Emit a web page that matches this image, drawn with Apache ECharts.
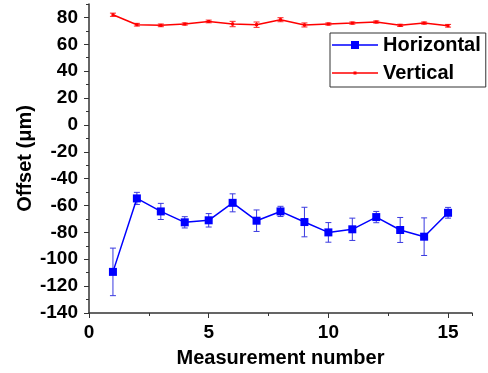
<!DOCTYPE html>
<html>
<head>
<meta charset="utf-8">
<script src="https://cdn.jsdelivr.net/npm/echarts@6/dist/echarts.min.js"></script>
<style>
html, body { margin: 0; padding: 0; background: #fff; }
#chart { width: 488px; height: 373px; }
</style>
</head>
<body>
<div id="chart"></div>
<script>
// data
var measurement = [1, 2, 3, 4, 5, 6, 7, 8, 9, 10, 11, 12, 13, 14, 15];
var horizontal = [-109.4, -54.7, -64.4, -72.5, -71.0, -58.0, -71.3, -64.4, -72.3, -80.0, -77.7, -68.6, -78.2, -83.2, -65.4];
var horizontalErr = [17.7, 4.5, 6.0, 4.2, 5.0, 6.7, 8.0, 3.8, 11.0, 7.3, 8.3, 4.2, 9.3, 14.0, 4.0];
var vertical = [82.0, 74.6, 74.1, 75.1, 77.0, 75.1, 74.6, 78.3, 74.4, 75.1, 75.8, 76.6, 74.1, 75.8, 73.8];
var verticalErr = [1.2, 1.0, 1.0, 0.8, 1.0, 2.0, 2.0, 1.5, 1.5, 0.8, 0.8, 0.8, 0.8, 0.8, 1.0];
var xTicks = [0, 5, 10, 15];
var yTicks = [-140, -120, -100, -80, -60, -40, -20, 0, 20, 40, 60, 80];

var font = 'Liberation Sans, Arial, sans-serif';
var axisColor = '#333';

function pairs(vals) {
  return measurement.map(function (m, i) { return [m, vals[i]]; });
}

function errorBars(name, vals, errs, color) {
  return {
    name: name + ' err',
    type: 'custom',
    z: 1,
    data: measurement.map(function (m, i) { return [m, vals[i] - errs[i], vals[i] + errs[i]]; }),
    renderItem: function (params, api) {
      var x = api.value(0);
      var lo = api.coord([x, api.value(1)]);
      var hi = api.coord([x, api.value(2)]);
      var w = 3;
      var st = { stroke: color, lineWidth: 1 };
      return {
        type: 'group',
        children: [
          { type: 'line', shape: { x1: lo[0], y1: lo[1], x2: hi[0], y2: hi[1] }, style: st },
          { type: 'line', shape: { x1: lo[0] - w, y1: lo[1], x2: lo[0] + w, y2: lo[1] }, style: st },
          { type: 'line', shape: { x1: hi[0] - w, y1: hi[1], x2: hi[0] + w, y2: hi[1] }, style: st }
        ]
      };
    }
  };
}

// legend icons: line with a big square / line with a tiny square
var iconHorizontal = 'path://M0,3.3H19V0H27V3.3H46V4.7H27V8H19V4.7H0Z';
var iconVertical = 'path://M0,0.8H21.5V0H24.5V0.8H46V2.2H24.5V3H21.5V2.2H0Z';

var myChart = echarts.init(document.getElementById('chart'));
var option = {
  animation: false,
  textStyle: { fontFamily: font },
  grid: { left: 89, right: 16, top: 4, bottom: 60 },
  legend: {
    data: [
      { name: 'Horizontal', icon: iconHorizontal, itemStyle: { color: '#0000ff' } },
      { name: 'Vertical', icon: iconVertical, itemStyle: { color: '#ff0000' } }
    ],
    orient: 'vertical',
    left: 330,
    top: 33,
    padding: [2, 5, 4, 2],
    itemGap: 8,
    itemWidth: 46,
    itemHeight: 10,
    borderColor: '#333',
    borderWidth: 1,
    textStyle: { fontFamily: font, fontSize: 20, fontWeight: 'bold', color: '#000', lineHeight: 20 }
  },
  xAxis: [{
    type: 'value',
    min: 0,
    max: 16,
    interval: 5,
    name: 'Measurement number',
    nameLocation: 'middle',
    nameGap: 35,
    nameMoveOverlap: false,
    nameTextStyle: { fontFamily: font, fontSize: 20, fontWeight: 'bold', color: '#000' },
    splitLine: { show: false },
    axisLine: { onZero: false, lineStyle: { color: axisColor, width: 1.5 } },
    axisTick: { length: 5, lineStyle: { color: axisColor } },
    axisLabel: {
      showMaxLabel: false, margin: 10,
      fontFamily: font, fontSize: 19, fontWeight: 'bold', color: '#000',
      formatter: function (v) { return xTicks.indexOf(v) >= 0 ? String(v) : ''; }
    }
  }, {
    type: 'value',
    position: 'bottom',
    min: 0,
    max: 16,
    interval: 2.5,
    splitLine: { show: false },
    axisLine: { show: false, onZero: false },
    axisTick: { length: 3, lineStyle: { color: axisColor } },
    axisLabel: { show: false }
  }],
  yAxis: [{
    type: 'value',
    min: -140,
    max: 90,
    interval: 20,
    name: 'Offset (\u03bcm)',
    nameLocation: 'middle',
    nameGap: 54,
    nameMoveOverlap: false,
    nameTextStyle: { fontFamily: font, fontSize: 20, fontWeight: 'bold', color: '#000' },
    splitLine: { show: false },
    axisLine: { show: true, onZero: false, lineStyle: { color: axisColor, width: 1.5 } },
    axisTick: { show: true, length: 5, lineStyle: { color: axisColor } },
    axisLabel: {
      showMaxLabel: false, margin: 11,
      fontFamily: font, fontSize: 19, fontWeight: 'bold', color: '#000',
      formatter: function (v) { return yTicks.indexOf(v) >= 0 ? String(v) : ''; }
    }
  }, {
    type: 'value',
    position: 'left',
    min: -140,
    max: 90,
    interval: 10,
    splitLine: { show: false },
    axisLine: { show: false, onZero: false },
    axisTick: { show: true, length: 3, lineStyle: { color: axisColor } },
    axisLabel: { show: false }
  }],
  series: [
    errorBars('Horizontal', horizontal, horizontalErr, '#3a3ae0'),
    errorBars('Vertical', vertical, verticalErr, '#ff2020'),
    {
      name: 'Horizontal',
      type: 'line',
      z: 3,
      data: pairs(horizontal),
      symbol: 'rect',
      symbolSize: 8,
      lineStyle: { color: '#0000ff', width: 1.5 },
      itemStyle: { color: '#0000ff' }
    },
    {
      name: 'Vertical',
      type: 'line',
      z: 3,
      data: pairs(vertical),
      symbol: 'rect',
      symbolSize: 3,
      lineStyle: { color: '#ff0000', width: 1.5 },
      itemStyle: { color: '#ff0000' }
    }
  ]
};
myChart.setOption(option);
</script>
</body>
</html>
